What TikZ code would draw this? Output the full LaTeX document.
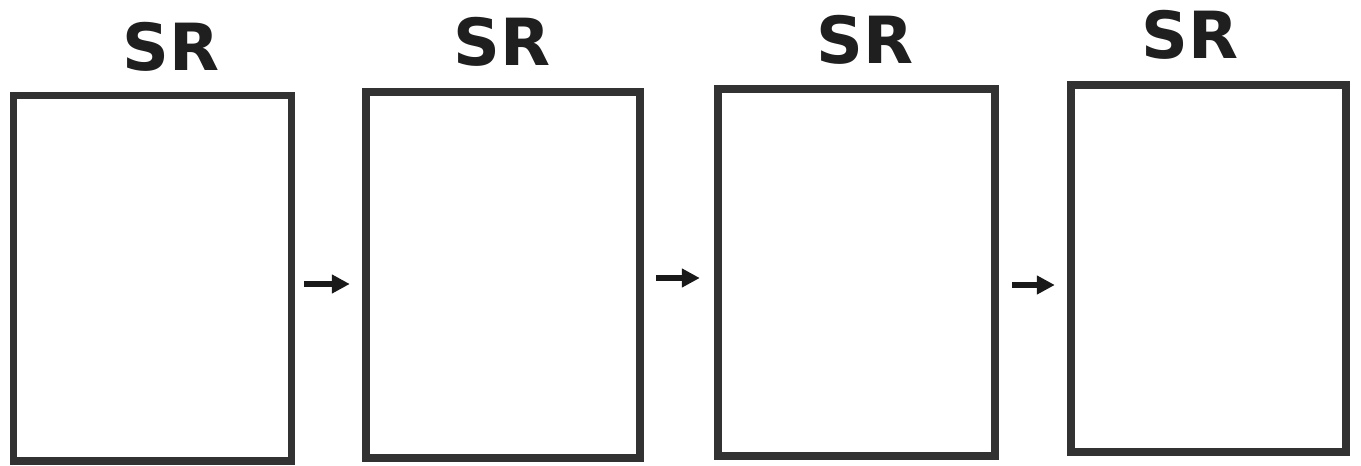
\documentclass[tikz,border=0pt]{standalone}
\usepackage{fontspec}
\setmainfont{DejaVu Sans}
\usetikzlibrary{arrows.meta,positioning,calc}
\definecolor{FrameGray}{RGB}{50,50,50}
\begin{document}
\begin{tikzpicture}[x=0.02cm,y=-0.02cm,
  frame/.style={draw=FrameGray,line width=0.15cm,inner sep=0pt,fill=white},
  srlab/.style={font=\fontsize{37}{42}\selectfont\bfseries,text=black!88,inner sep=0pt},
  stepArrow/.style={line width=0.11cm,-{Triangle[length=0.36cm,width=0.36cm]},black!90}]
\useasboundingbox (0,0) rectangle (1361,466);
% four frames with their titles
\foreach \i/\cx/\cy/\w/\h/\lx/\ly in {1/152.5/278.25/5.56/7.31/171/47,
  2/503/275/5.48/7.32/502/42, 3/856.5/272.5/5.54/7.34/865/40,
  4/1208.5/268.5/5.50/7.34/1190/35}{
  \node[frame,minimum width=\w cm,minimum height=\h cm] (f\i) at (\cx,\cy) {};
  \node[srlab] (t\i) at (\lx,\ly) {SR};
}
% arrows between frames
\foreach \a/\b/\dy/\sa/\sb in {1/2/-0.115/0.18/0.25, 2/3/-0.06/0.25/0.29, 3/4/-0.25/0.27/0.25}{
  \draw[stepArrow,shorten <=\sa cm,shorten >=\sb cm]
    ([yshift=\dy cm]f\a.east) -- ([yshift=\dy cm]f\a.east -| f\b.west);
}
\end{tikzpicture}
\end{document}
